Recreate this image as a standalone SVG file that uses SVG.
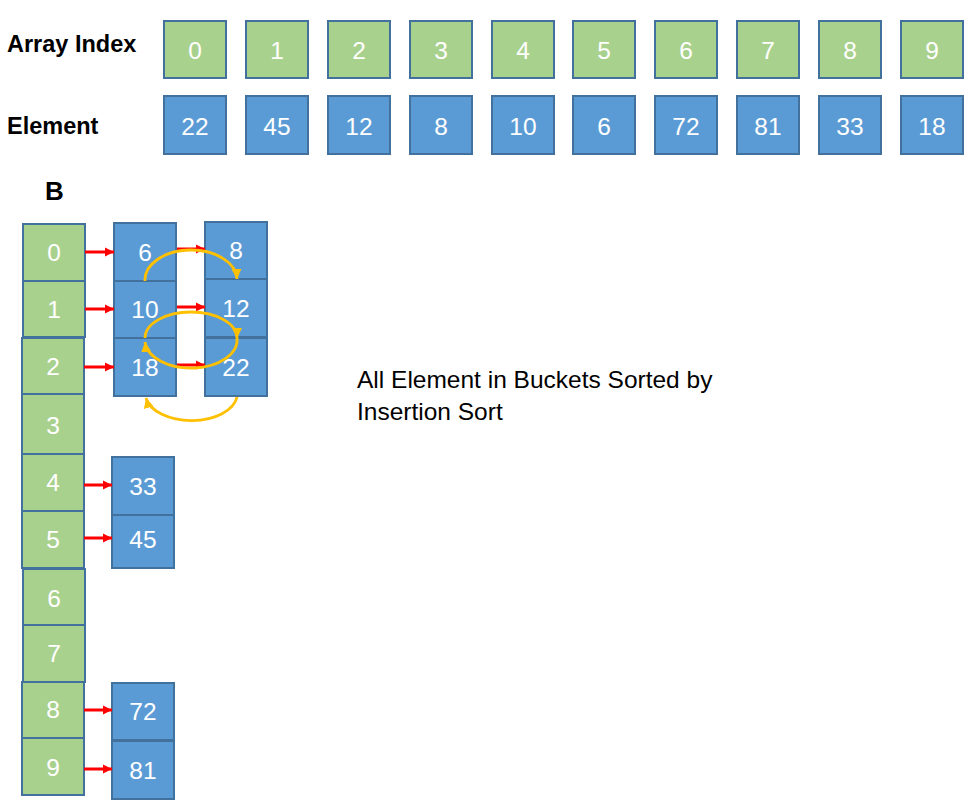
<svg xmlns="http://www.w3.org/2000/svg" width="980" height="809" viewBox="0 0 980 809">
<defs>
<style>
.g{fill:#A9D18E;stroke:#41719C;stroke-width:2}
.b{fill:#5B9BD5;stroke:#41719C;stroke-width:2}
.n{font-family:"Liberation Sans",Arial,sans-serif;font-size:24.5px;fill:#FFFFFF;text-anchor:middle}
.lbl{font-family:"Liberation Sans",Arial,sans-serif;font-size:23.5px;font-weight:bold;fill:#000000}
.cap{font-family:"Liberation Sans",Arial,sans-serif;font-size:24.5px;fill:#000000}
.ra{stroke:#FF0000;stroke-width:3;fill:none;marker-end:url(#rh)}
.ya{stroke:#FFC000;stroke-width:2.8;fill:none;marker-end:url(#yh)}
</style>
<marker id="rh" markerUnits="userSpaceOnUse" markerWidth="10" markerHeight="10" refX="9" refY="5" orient="auto"><path d="M0,0.5 L9,5 L0,9.5 Z" fill="#FF0000"/></marker>
<marker id="yh" markerUnits="userSpaceOnUse" markerWidth="12" markerHeight="12" refX="10" refY="5.5" orient="auto"><path d="M0,0.5 L10,5.5 L0,10.5 Z" fill="#FFC000"/></marker>
</defs>
<rect width="980" height="809" fill="#FFFFFF"/>
<text class="lbl" x="7" y="52">Array Index</text>
<text class="lbl" x="7" y="134">Element</text>
<text class="lbl" x="45" y="200" style="font-size:26px">B</text>
<g id="idx0"><rect class="g" x="164" y="21" width="62" height="57"/><text class="n" x="195" y="59">0</text></g>
<g id="idx1"><rect class="g" x="246" y="21" width="62" height="57"/><text class="n" x="277" y="59">1</text></g>
<g id="idx2"><rect class="g" x="328" y="21" width="62" height="57"/><text class="n" x="359" y="59">2</text></g>
<g id="idx3"><rect class="g" x="410" y="21" width="62" height="57"/><text class="n" x="441" y="59">3</text></g>
<g id="idx4"><rect class="g" x="492" y="21" width="62" height="57"/><text class="n" x="523" y="59">4</text></g>
<g id="idx5"><rect class="g" x="573" y="21" width="62" height="57"/><text class="n" x="604" y="59">5</text></g>
<g id="idx6"><rect class="g" x="655" y="21" width="62" height="57"/><text class="n" x="686" y="59">6</text></g>
<g id="idx7"><rect class="g" x="737" y="21" width="62" height="57"/><text class="n" x="768" y="59">7</text></g>
<g id="idx8"><rect class="g" x="819" y="21" width="62" height="57"/><text class="n" x="850" y="59">8</text></g>
<g id="idx9"><rect class="g" x="901" y="21" width="62" height="57"/><text class="n" x="932" y="59">9</text></g>
<g id="el0"><rect class="b" x="164" y="96" width="62" height="58"/><text class="n" x="195" y="135">22</text></g>
<g id="el1"><rect class="b" x="246" y="96" width="62" height="58"/><text class="n" x="277" y="135">45</text></g>
<g id="el2"><rect class="b" x="328" y="96" width="62" height="58"/><text class="n" x="359" y="135">12</text></g>
<g id="el3"><rect class="b" x="410" y="96" width="62" height="58"/><text class="n" x="441" y="135">8</text></g>
<g id="el4"><rect class="b" x="492" y="96" width="62" height="58"/><text class="n" x="523" y="135">10</text></g>
<g id="el5"><rect class="b" x="573" y="96" width="62" height="58"/><text class="n" x="604" y="135">6</text></g>
<g id="el6"><rect class="b" x="655" y="96" width="62" height="58"/><text class="n" x="686" y="135">72</text></g>
<g id="el7"><rect class="b" x="737" y="96" width="62" height="58"/><text class="n" x="768" y="135">81</text></g>
<g id="el8"><rect class="b" x="819" y="96" width="62" height="58"/><text class="n" x="850" y="135">33</text></g>
<g id="el9"><rect class="b" x="901" y="96" width="62" height="58"/><text class="n" x="932" y="135">18</text></g>
<g id="bk0"><rect class="g" x="23" y="224" width="62" height="57"/><text class="n" x="54" y="261">0</text></g>
<g id="bk1"><rect class="g" x="23" y="281" width="62" height="56"/><text class="n" x="54" y="318">1</text></g>
<g id="bk2"><rect class="g" x="22" y="338" width="62" height="56"/><text class="n" x="53" y="375">2</text></g>
<g id="bk3"><rect class="g" x="22" y="394" width="62" height="60"/><text class="n" x="53" y="434">3</text></g>
<g id="bk4"><rect class="g" x="22" y="454" width="62" height="57"/><text class="n" x="53" y="491">4</text></g>
<g id="bk5"><rect class="g" x="22" y="511" width="62" height="57"/><text class="n" x="53" y="548">5</text></g>
<g id="bk6"><rect class="g" x="23" y="569" width="62" height="56"/><text class="n" x="54" y="607">6</text></g>
<g id="bk7"><rect class="g" x="23" y="625" width="62" height="57"/><text class="n" x="54" y="662">7</text></g>
<g id="bk8"><rect class="g" x="22" y="682" width="62" height="56"/><text class="n" x="53" y="718">8</text></g>
<g id="bk9"><rect class="g" x="22" y="738" width="62" height="57"/><text class="n" x="53" y="776">9</text></g>
<g id="v6"><rect class="b" x="114" y="223" width="62" height="58"/><text class="n" x="145" y="261">6</text></g>
<g id="v10"><rect class="b" x="114" y="281" width="62" height="57"/><text class="n" x="145" y="318">10</text></g>
<g id="v18"><rect class="b" x="114" y="338" width="62" height="58"/><text class="n" x="145" y="376">18</text></g>
<g id="v8"><rect class="b" x="205" y="222" width="62" height="57"/><text class="n" x="236" y="259">8</text></g>
<g id="v12"><rect class="b" x="205" y="279" width="62" height="58"/><text class="n" x="236" y="317">12</text></g>
<g id="v22"><rect class="b" x="205" y="338" width="62" height="58"/><text class="n" x="236" y="376">22</text></g>
<g id="v33"><rect class="b" x="112" y="457" width="62" height="58"/><text class="n" x="143" y="495">33</text></g>
<g id="v45"><rect class="b" x="112" y="515" width="62" height="53"/><text class="n" x="143" y="548">45</text></g>
<g id="v72"><rect class="b" x="112" y="683" width="62" height="57"/><text class="n" x="143" y="720">72</text></g>
<g id="v81"><rect class="b" x="112" y="741" width="62" height="58"/><text class="n" x="143" y="779">81</text></g>
<g id="connectors">
<line class="ra" x1="85" y1="252" x2="114" y2="252"/>
<line class="ra" x1="85" y1="309" x2="114" y2="309"/>
<line class="ra" x1="84" y1="367" x2="114" y2="367"/>
<line class="ra" x1="84" y1="485" x2="112" y2="485"/>
<line class="ra" x1="84" y1="538" x2="112" y2="538"/>
<line class="ra" x1="84" y1="710" x2="112" y2="710"/>
<line class="ra" x1="84" y1="769" x2="112" y2="769"/>
<line class="ra" x1="177" y1="249" x2="205" y2="249"/>
<line class="ra" x1="177" y1="307" x2="205" y2="307"/>
<line class="ra" x1="177" y1="365" x2="205" y2="365"/>
<path class="ya" d="M145,281 A46,30 0 0 1 237,279"/>
<path class="ya" d="M145,338 A46,26 0 0 1 237,338"/>
<path class="ya" d="M237,338 A46,28 0 0 1 145,342"/>
<path class="ya" d="M237,397 A46,27 0 0 1 146,398"/>
</g>
<text class="cap" x="357" y="388">All Element in Buckets Sorted by</text>
<text class="cap" x="357" y="420">Insertion Sort</text>
</svg>
